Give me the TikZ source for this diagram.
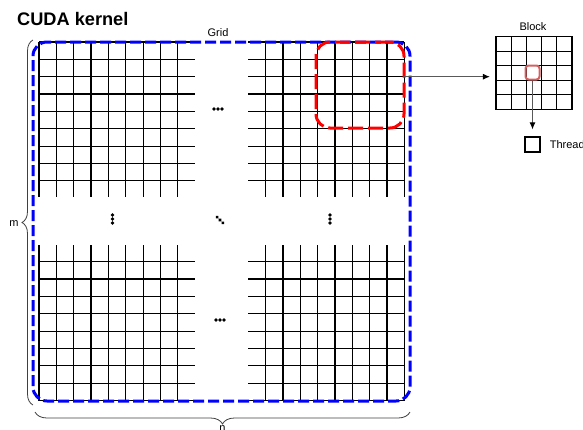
\documentclass[tikz,border=0pt]{standalone}
\usepackage{fontspec}
\setmainfont{Liberation Sans}
\usetikzlibrary{arrows.meta,positioning,decorations.pathreplacing}
\definecolor{cellred}{RGB}{214,96,96}

\begin{document}
\begin{tikzpicture}[
    x=1pt, y=-1pt,
    gridline/.style={line width=1.2pt, black},
    dashbox/.style={draw=#1, line width=3pt, rounded corners=14pt, inner sep=0pt},
    txt/.style={font=\fontsize{11}{13}\selectfont, inner sep=0pt},
    arrow/.style={-{Latex[length=7pt,width=6pt,color=black]}, line width=1pt, draw=black!65},
    curly/.style={decorate, decoration={brace, amplitude=#1}, draw=black!75, line width=0.8pt},
    threedots/.pic={\fill (-4,0) circle (1.8) (0,0) circle (1.8) (4,0) circle (1.8);}
]
    \useasboundingbox (0,0) rectangle (583,429);
    \def\c{17.35}

    % four corner blocks of the grid
    \foreach \i in {0,...,8} {
        \draw[gridline] (39+\i*\c, 42) -- ++(0,155)
                        (265.6+\i*\c, 42) -- ++(0,155)
                        (39+\i*\c, 245) -- ++(0,155.5)
                        (265.6+\i*\c, 245) -- ++(0,155.5);
        \draw[gridline] (39, 42+\i*\c) -- (195, 42+\i*\c)
                        (248, 42+\i*\c) -- (404.4, 42+\i*\c)
                        (39, 261.7+\i*\c) -- (195, 261.7+\i*\c)
                        (248, 261.7+\i*\c) -- (404.4, 261.7+\i*\c);
    }

    \pic at (218,109) {threedots};
    \pic at (220,320) {threedots};
    \pic[rotate=90] at (112.5,219) {threedots};
    \pic[rotate=90] at (330,219) {threedots};
    \pic[rotate=-45] at (220,220) {threedots};

    \node[dashbox=blue, dash pattern=on 11pt off 4pt, minimum width=377, minimum height=359] (grid) at (221.5,221.5) {};
    \node[dashbox=red, dash pattern=on 15pt off 5pt, minimum width=88, minimum height=86] (sel) at (360,85) {};

    % one block, zoomed
    \node[draw, line width=1.2pt, minimum width=76, minimum height=72.5, inner sep=0pt] (block) at (534,72.9) {};
    \foreach \k in {1,...,4} {
        \draw[line width=0.9pt] (496+\k*15.2, 36.7) -- (496+\k*15.2, 109.2)
                                (496, 36.7+\k*14.5) -- (572, 36.7+\k*14.5);
    }
    \node[draw=cellred, line width=2pt, rounded corners=3pt, minimum size=14, inner sep=0pt] (cell) at (532.5,72.5) {};
    \node[draw, line width=1.2pt, minimum size=15, inner sep=0pt] (thread) at (532.5,144.5) {};

    \coordinate (tap) at (404,76.7);
    \draw[arrow, shorten >=5.5pt] (tap) -- (tap -| block.west);
    \draw[arrow, shorten >=7pt] (cell) -- (thread);

    \node[font=\bfseries\fontsize{18.2}{20}\selectfont, inner sep=0pt, anchor=base west] (title) at (17,25) {CUDA kernel};
    \node[txt, anchor=base] (gridlab) at (218,36.5) {Grid};
    \node[txt, anchor=base] (blocklab) at (533,30.7) {Block};
    \node[txt, right=9pt of thread, anchor=west] (threadlab) {Thread};

    \coordinate (mbot) at (33,405);
    \coordinate (mtop) at (33,40);
    \coordinate (nright) at (410,412);
    \coordinate (nleft) at (35,412);
    \draw[curly=11pt] (mbot) -- (mtop);
    \draw[curly=12pt] (nright) -- (nleft);
    \node[txt, anchor=base] (mlab) at (14,226) {m};
    \node[txt, anchor=base] (nlab) at (222.5,431.7) {n};
\end{tikzpicture}
\end{document}
